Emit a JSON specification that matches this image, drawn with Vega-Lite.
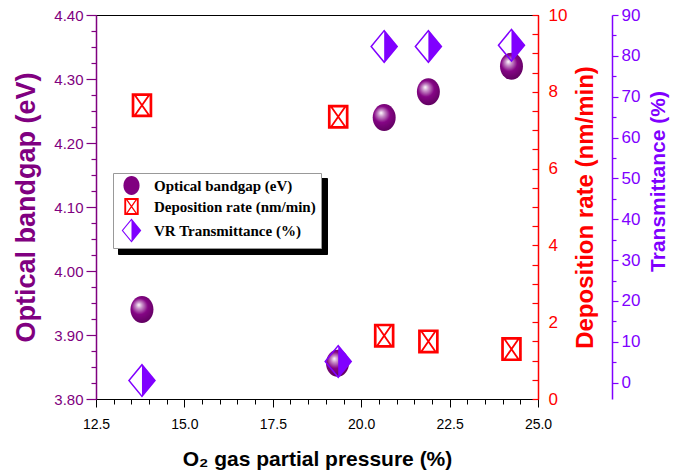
{
  "$schema": "https://vega.github.io/schema/vega-lite/v6.json",
  "width": 442,
  "height": 384,
  "autosize": "none",
  "padding": {"left": 96, "top": 15, "right": 138, "bottom": 77},
  "background": "white",
  "config": {
    "view": {"stroke": "black", "strokeWidth": 1},
    "font": "Liberation Sans",
    "axis": {"labelFont": "Liberation Sans", "titleFont": "Liberation Sans", "grid": false, "labelOverlap": false, "labelFlush": false}
  },
  "data": {
    "values": [
      {"series": "Optical bandgap (eV)", "p": 13.8, "value": 3.94},
      {"series": "Optical bandgap (eV)", "p": 19.33, "value": 3.856},
      {"series": "Optical bandgap (eV)", "p": 20.65, "value": 4.24},
      {"series": "Optical bandgap (eV)", "p": 21.9, "value": 4.28},
      {"series": "Optical bandgap (eV)", "p": 24.25, "value": 4.32},
      {"series": "Deposition rate (nm/min)", "p": 13.8, "value": 7.65},
      {"series": "Deposition rate (nm/min)", "p": 19.35, "value": 7.35},
      {"series": "Deposition rate (nm/min)", "p": 20.65, "value": 1.65},
      {"series": "Deposition rate (nm/min)", "p": 21.9, "value": 1.5},
      {"series": "Deposition rate (nm/min)", "p": 24.25, "value": 1.3},
      {"series": "VR Transmittance (%)", "p": 13.8, "value": 0.5},
      {"series": "VR Transmittance (%)", "p": 19.35, "value": 5.2},
      {"series": "VR Transmittance (%)", "p": 20.65, "value": 82.3},
      {"series": "VR Transmittance (%)", "p": 21.9, "value": 82.3},
      {"series": "VR Transmittance (%)", "p": 24.25, "value": 82.6}
    ]
  },
  "encoding": {
    "x": {
      "field": "p", "type": "quantitative",
      "scale": {"domain": [12.5, 25], "nice": false, "zero": false},
      "axis": {
        "title": "O₂ gas partial pressure (%)",
        "values": [12.5, 13, 13.5, 14, 14.5, 15, 15.5, 16, 16.5, 17, 17.5, 18, 18.5, 19, 19.5, 20, 20.5, 21, 21.5, 22, 22.5, 23, 23.5, 24, 24.5, 25],
        "labelExpr": "datum.value % 2.5 === 0 ? format(datum.value, '.1f') : ''",
        "tickSize": {"condition": {"test": "datum.value % 2.5 === 0", "value": 8}, "value": 5},
        "domainColor": "black", "tickColor": "black", "labelColor": "black",
        "labelFontSize": 14, "labelPadding": 10,
        "titleFontSize": 21, "titleFontWeight": "bold", "titleColor": "black", "titlePadding": 17
      }
    },
    "fill": {
      "field": "series", "type": "nominal",
      "scale": {
        "domain": ["Optical bandgap (eV)", "Deposition rate (nm/min)", "VR Transmittance (%)"],
        "range": ["#800080", "#ff0000", "#8000ff"]
      },
      "legend": {
        "title": null, "orient": "none", "legendX": 17, "legendY": 158, "zindex": 2,
        "labelFont": "Liberation Serif", "labelFontWeight": "bold", "labelFontSize": 15, "labelColor": "black", "labelLimit": 400,
        "symbolSize": 196, "symbolStrokeWidth": 0, "symbolOpacity": 1, "symbolOffset": 6,
        "strokeColor": "#999999", "fillColor": "white", "padding": 5, "rowPadding": 3, "labelOffset": 15,
        "encode": {
          "symbols": {
            "update": {
              "fill": {"signal": "datum.value === 'Optical bandgap (eV)' ? {gradient: 'radial', x1: 0.38, y1: 0.33, r1: 0, x2: 0.45, y2: 0.45, r2: 0.6, stops: [{offset: 0, color: '#ffffff'}, {offset: 0.2, color: '#c890c8'}, {offset: 0.5, color: '#850585'}, {offset: 1, color: '#5a005a'}]} : datum.value === 'Deposition rate (nm/min)' ? '#ff0000' : '#8000ff'"}
            }
          }
        }
      }
    },
    "shape": {
      "field": "series", "type": "nominal",
      "scale": {
        "domain": ["Optical bandgap (eV)", "Deposition rate (nm/min)", "VR Transmittance (%)"],
        "range": [
          "M-1.15,0A1.15,1.35 0 1,1 1.15,0A1.15,1.35 0 1,1 -1.15,0Z",
          "M-1.03,-1.2H1.03V1.2H-1.03Z M-0.76,-0.93V0.93H0.76V-0.93Z M-0.76,-0.93L-0.54,-0.93L0.76,0.93L0.54,0.93Z M0.54,-0.93L0.76,-0.93L-0.54,0.93L-0.76,0.93Z",
          "M0,-1.7L1.4,0L0,1.7Z M0,-1.7L-1.4,0L0,1.7Z M0,-1.464L0,1.464L-1.206,0Z"
        ]
      }
    }
  },
  "layer": [
    {
      "transform": [{"filter": "datum.series === 'Optical bandgap (eV)'"}],
      "mark": {"type": "point", "filled": true, "opacity": 1, "size": 400, "strokeWidth": 0},
      "encoding": {
        "fill": {"value": {"gradient": "radial", "x1": 0.38, "y1": 0.33, "r1": 0, "x2": 0.45, "y2": 0.45, "r2": 0.6,
           "stops": [{"offset": 0, "color": "#ffffff"}, {"offset": 0.2, "color": "#c890c8"}, {"offset": 0.5, "color": "#850585"}, {"offset": 1, "color": "#5a005a"}]}},
        "y": {
          "field": "value", "type": "quantitative",
          "scale": {"domain": [3.8, 4.4], "nice": false, "zero": false},
          "axis": {
            "orient": "left", "title": "Optical bandgap (eV)",
            "values": [3.8, 3.825, 3.85, 3.875, 3.9, 3.925, 3.95, 3.975, 4.0, 4.025, 4.05, 4.075, 4.1, 4.125, 4.15, 4.175, 4.2, 4.225, 4.25, 4.275, 4.3, 4.325, 4.35, 4.375, 4.4],
            "labelExpr": "abs(datum.value*10 - round(datum.value*10)) < 0.001 ? format(datum.value, '.2f') : ''",
            "tickSize": {"condition": {"test": "abs(datum.value*10 - round(datum.value*10)) < 0.001", "value": 10}, "value": 5},
            "domainColor": "#800080", "tickColor": "#800080", "labelColor": "#800080", "titleColor": "#800080",
            "domainWidth": 1.5, "tickWidth": 1.2,
            "labelFontSize": 15, "labelPadding": 3,
            "titleFontSize": 27, "titleFontWeight": "bold", "titlePadding": 13
          }
        }
      }
    },
    {
      "transform": [{"filter": "datum.series === 'Deposition rate (nm/min)'"}],
      "mark": {"type": "point", "filled": true, "opacity": 1, "size": 400, "strokeWidth": 0},
      "encoding": {
        "y": {
          "field": "value", "type": "quantitative",
          "scale": {"domain": [0, 10], "nice": false, "zero": false},
          "axis": {
            "orient": "right", "title": "Deposition rate (nm/min)", "titleAngle": 270, "titleBaseline": "top",
            "values": [0, 0.5, 1, 1.5, 2, 2.5, 3, 3.5, 4, 4.5, 5, 5.5, 6, 6.5, 7, 7.5, 8, 8.5, 9, 9.5, 10],
            "labelExpr": "datum.value % 2 === 0 ? format(datum.value, 'd') : ''",
            "tickSize": -6,
            "domainColor": "#ff0000", "tickColor": "#ff0000", "labelColor": "#ff0000", "titleColor": "#ff0000",
            "domainWidth": 1.5, "tickWidth": 1.2,
            "labelFontSize": 17, "labelPadding": 16,
            "titleFontSize": 24, "titleFontWeight": "bold", "titlePadding": 7
          }
        }
      }
    },
    {
      "transform": [{"filter": "datum.series === 'VR Transmittance (%)'"}],
      "mark": {"type": "point", "filled": true, "opacity": 1, "size": 400, "strokeWidth": 0},
      "encoding": {
        "y": {
          "field": "value", "type": "quantitative",
          "scale": {"domain": [-4, 90], "nice": false, "zero": false},
          "axis": {
            "orient": "right", "offset": 74, "title": "Transmittance (%)", "titleAngle": 270, "titleBaseline": "top", "titleY": 166,
            "values": [0, 5, 10, 15, 20, 25, 30, 35, 40, 45, 50, 55, 60, 65, 70, 75, 80, 85, 90],
            "labelExpr": "datum.value % 10 === 0 ? format(datum.value, 'd') : ''",
            "tickSize": {"condition": {"test": "datum.value % 10 === 0", "value": 6}, "value": 4},
            "domainColor": "#8000ff", "tickColor": "#8000ff", "labelColor": "#8000ff", "titleColor": "#8000ff",
            "domainWidth": 1.5, "tickWidth": 1.2,
            "labelFontSize": 17, "labelPadding": 3,
            "titleFontSize": 21, "titleFontWeight": "bold", "titlePadding": 8
          }
        }
      }
    },
    {
      "mark": {"type": "point", "filled": true, "opacity": 1, "size": 0, "strokeWidth": 0},
      "encoding": {
        "strokeDash": {
          "field": "series", "type": "nominal",
          "scale": {
            "domain": ["VR Transmittance (%)", "Optical bandgap (eV)", "Deposition rate (nm/min)"],
            "range": [[1, 0], [1, 0], [1, 0]]
          },
          "legend": {
            "title": null, "orient": "none", "legendX": 22, "legendY": 163, "zindex": 1,
            "labelFontSize": 15, "labelExpr": "''",
            "symbolType": "M-1.4,-1.36L26.4,-1.36L26.4,1.36L-1.4,1.36Z",
            "symbolSize": 196, "symbolStrokeWidth": 0, "symbolOpacity": 1, "symbolOffset": 6,
            "symbolFillColor": "black", "symbolStrokeColor": "black",
            "strokeColor": "black", "fillColor": "black", "padding": 5, "rowPadding": 3, "labelOffset": 15
          }
        }
      }
    }
  ],
  "resolve": {"scale": {"y": "independent"}}
}
